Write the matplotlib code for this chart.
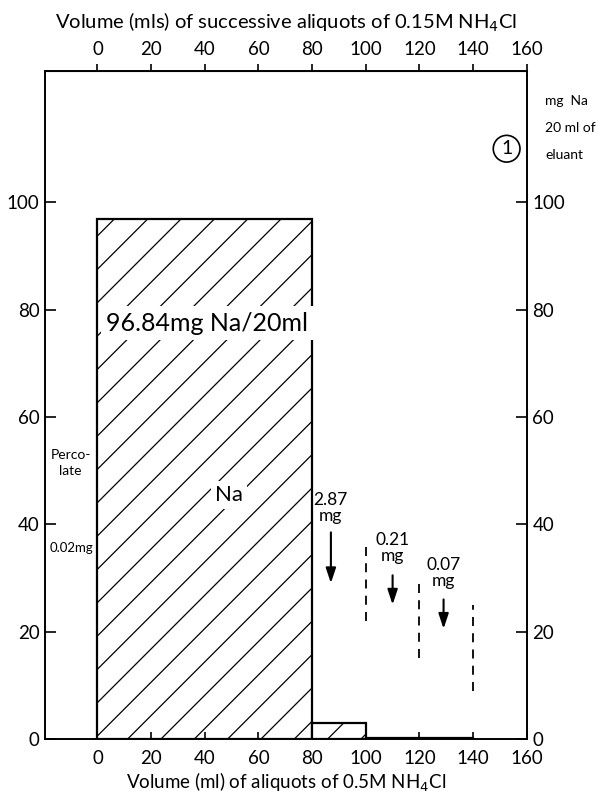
import matplotlib
matplotlib.use("Agg")
import matplotlib.pyplot as plt

plt.rcParams["font.family"] = ["Lato", "DejaVu Sans"]
plt.rcParams["hatch.linewidth"] = 0.9

# Elution steps (ml of 0.5M NH4Cl) and mg Na per 20 ml
step_left = [0, 80, 100, 120]
step_width = [80, 20, 20, 20]
step_na_mg = [96.84, 2.87, 0.21, 0.07]

# Markers of later fractions: arrow x, arrow top/bottom, label
arrow_x = [87, 110, 129]
arrow_top = [39, 31, 26.5]
arrow_bottom = [28.5, 24.5, 20]
arrow_labels = ["2.87\nmg", "0.21\nmg", "0.07\nmg"]
label_y = [43, 35.5, 31]

# Dashed boundaries after each aliquot
dash_x = [100, 120, 140]
dash_top = [37, 30, 25]
dash_bottom = [22, 15, 9]

ticks = [0, 20, 40, 60, 80, 100, 120, 140, 160]
yticks = [0, 20, 40, 60, 80, 100]

fig = plt.figure(figsize=(6.02, 7.97), dpi=100)
ax = fig.add_axes([0.075, 0.073, 0.8, 0.838])

for left, w, h in zip(step_left, step_width, step_na_mg):
    ax.bar(left, h, width=w, align="edge", facecolor="white",
           edgecolor="black", linewidth=1.6, hatch="/")

ax.vlines(dash_x, dash_bottom, dash_top, colors="black",
          linestyles=(0, (5, 4)), linewidth=1.3)

for x, y0, y1, lab, ly in zip(arrow_x, arrow_top, arrow_bottom, arrow_labels, label_y):
    ax.annotate("", xy=(x, y1), xytext=(x, y0),
                arrowprops=dict(arrowstyle="-|>,head_width=0.3,head_length=0.9",
                                color="black", lw=1.5))
    ax.text(x, ly, lab, ha="center", va="center", fontsize=12.5, linespacing=1.0)

ax.text(41, 77.5, "96.84mg Na/20ml", ha="center", va="center", fontsize=18,
        bbox=dict(facecolor="white", edgecolor="none", pad=4))
ax.text(49, 45.5, "Na", ha="center", va="center", fontsize=16,
        bbox=dict(facecolor="white", edgecolor="none", pad=3))
ax.text(-10, 51.5, "Perco-\nlate", ha="center", va="center", fontsize=10,
        linespacing=1.4)
ax.text(-9.5, 35.5, "0.02mg", ha="center", va="center", fontsize=9.5)
ax.text(152.5, 110, "1", ha="center", va="center", fontsize=14,
        bbox=dict(boxstyle="circle,pad=0.25", facecolor="white",
                  edgecolor="black", linewidth=1.2))

ax.set_xlim(-19.5, 160)
ax.set_ylim(0, 124.5)

ax.set_xticks(ticks)
ax.set_xticklabels([str(t) for t in ticks], fontsize=13.5)
ax.set_yticks(yticks)
ax.set_yticklabels([str(t) for t in yticks], fontsize=13.5)
ax.tick_params(axis="x", direction="in", length=5, width=1.2, pad=8)
ax.tick_params(axis="y", direction="in", length=8, width=1.2, pad=4,
               right=True, labelright=True)
ax.set_xlabel("Volume (ml) of aliquots of 0.5M NH$_4$Cl", fontsize=13.5, labelpad=3)

top = ax.secondary_xaxis("top")
top.set_xticks(ticks)
top.set_xticklabels([str(t) for t in ticks], fontsize=13.5)
top.tick_params(direction="out", length=5, width=1.2, pad=4)
top.set_xlabel("Volume (mls) of successive aliquots of 0.15M NH$_4$Cl",
               fontsize=14.5, labelpad=9)

fig.text(0.906, 0.839, "mg  Na\n20 ml of\neluant", ha="left", va="center",
         fontsize=10, linespacing=2.5)

for s in ax.spines.values():
    s.set_linewidth(1.4)

fig.savefig("out.png", dpi=100, facecolor="white")
